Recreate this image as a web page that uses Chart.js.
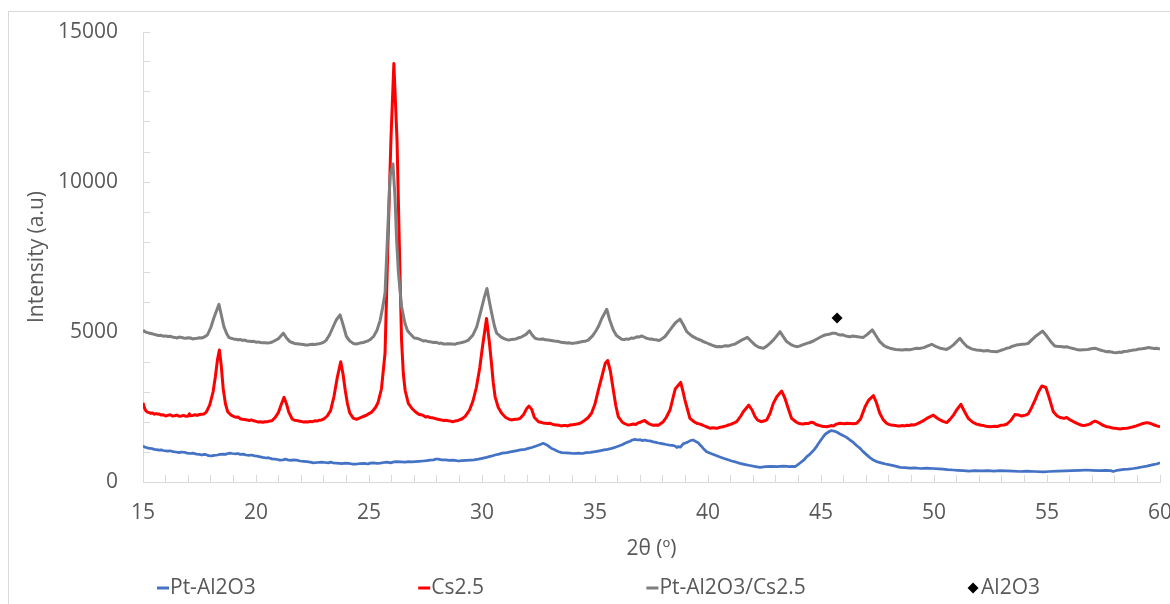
<!DOCTYPE html>
<html lang="en">
<head>
<meta charset="UTF-8">
<title>XRD patterns</title>
<script src="https://cdn.jsdelivr.net/npm/chart.js@4.4.1/dist/chart.umd.min.js"></script>
<style>
    html, body { margin: 0; padding: 0; background: #fff; overflow: hidden; }
    #wrap { position: relative; width: 1170px; height: 604px; }
    #frame { position: absolute; left: 8px; top: 11px; width: 1200px; height: 640px; border: 1px solid #d9d9d9; pointer-events: none; }
    canvas { position: absolute; left: 0; top: 0; }
</style>
</head>
<body>
<div id="wrap">
    <canvas id="xrd" width="1170" height="604"></canvas>
    <div id="frame"></div>
</div>
<script>
// 2θ (deg), intensity (a.u.) pairs for each sample
const ptAl2o3 = [
    [15.0,1210],[15.08,1160],[15.15,1150],[15.23,1130],[15.31,1120],[15.4,1110],[15.5,1090],[15.6,1080],
    [15.7,1060],[15.8,1070],[15.9,1050],[16.0,1040],[16.1,1030],[16.2,1040],[16.34,1010],[16.45,1000],
    [16.6,980],[16.7,1000],[16.85,990],[16.95,960],[17.1,950],[17.2,960],[17.37,930],[17.5,920],
    [17.6,900],[17.7,920],[17.8,910],[17.9,880],[18.04,870],[18.15,890],[18.3,900],[18.4,920],
    [18.55,930],[18.65,920],[18.75,950],[18.85,960],[18.95,950],[19.1,940],[19.2,950],[19.3,920],
    [19.44,930],[19.55,900],[19.7,890],[19.8,900],[19.95,870],[20.05,860],[20.18,840],[20.3,820],
    [20.45,800],[20.55,810],[20.7,770],[20.85,760],[20.95,750],[21.06,730],[21.2,740],[21.3,760],
    [21.4,740],[21.55,720],[21.65,740],[21.8,730],[21.95,700],[22.1,690],[22.25,680],[22.4,660],
    [22.54,640],[22.7,650],[22.9,660],[23.05,650],[23.2,640],[23.3,660],[23.42,640],[23.55,630],
    [23.7,620],[23.8,610],[23.95,630],[24.1,620],[24.25,600],[24.45,600],[24.6,610],[24.8,620],
    [24.95,600],[25.05,630],[25.19,640],[25.35,620],[25.5,630],[25.65,650],[25.8,660],[25.95,640],
    [26.1,670],[26.22,680],[26.4,670],[26.6,660],[26.75,680],[26.9,670],[27.04,680],[27.2,690],
    [27.4,700],[27.55,710],[27.7,730],[27.85,740],[27.95,760],[28.07,760],[28.2,740],[28.4,740],
    [28.55,720],[28.7,730],[28.8,720],[28.95,700],[29.1,710],[29.3,720],[29.5,730],[29.65,740],
    [29.84,760],[30.0,790],[30.2,820],[30.4,860],[30.58,900],[30.75,930],[30.9,960],[31.1,980],
    [31.31,1010],[31.5,1040],[31.7,1070],[31.9,1090],[32.05,1120],[32.2,1150],[32.4,1200],[32.55,1240],
    [32.71,1290],[32.8,1260],[32.9,1220],[33.0,1160],[33.08,1120],[33.2,1080],[33.3,1040],[33.4,1010],
    [33.53,980],[33.7,970],[33.9,960],[34.05,950],[34.26,960],[34.45,950],[34.6,980],[34.8,990],
    [35.0,1010],[35.2,1040],[35.4,1070],[35.55,1090],[35.74,1120],[35.9,1160],[36.05,1200],[36.2,1240],
    [36.33,1290],[36.45,1330],[36.55,1360],[36.65,1400],[36.77,1420],[36.9,1400],[37.0,1410],[37.1,1380],
    [37.21,1400],[37.3,1380],[37.43,1370],[37.58,1340],[37.7,1320],[37.8,1300],[37.9,1290],[38.02,1270],
    [38.15,1250],[38.3,1230],[38.42,1220],[38.54,1200],[38.62,1150],[38.7,1180],[38.78,1160],[38.9,1270],
    [39.0,1300],[39.1,1330],[39.22,1380],[39.34,1400],[39.42,1370],[39.5,1330],[39.58,1300],[39.65,1230],
    [39.72,1180],[39.8,1110],[39.94,1010],[40.1,960],[40.3,900],[40.5,840],[40.68,790],[40.85,750],
    [41.05,700],[41.25,660],[41.42,620],[41.6,590],[41.85,550],[42.05,520],[42.3,490],[42.55,510],
    [42.8,520],[43.05,510],[43.33,530],[43.5,520],[43.6,510],[43.75,520],[43.85,510],[43.95,560],
    [44.1,650],[44.25,740],[44.36,840],[44.5,920],[44.6,1000],[44.7,1080],[44.8,1180],[44.95,1350],
    [45.1,1510],[45.2,1600],[45.3,1650],[45.4,1700],[45.47,1710],[45.55,1700],[45.65,1680],[45.75,1640],
    [45.84,1600],[45.95,1560],[46.05,1520],[46.15,1480],[46.28,1400],[46.4,1340],[46.5,1270],[46.6,1200],
    [46.73,1120],[46.85,1020],[47.0,920],[47.15,820],[47.32,730],[47.5,670],[47.7,630],[47.85,600],
    [48.05,570],[48.25,540],[48.5,490],[48.7,480],[48.94,460],[49.15,470],[49.4,450],[49.65,460],
    [49.97,450],[50.2,440],[50.4,430],[50.6,410],[50.85,400],[51.05,390],[51.3,380],[51.55,360],
    [51.8,380],[52.1,370],[52.4,380],[52.65,360],[52.92,380],[53.2,370],[53.5,360],[53.8,350],
    [54.1,360],[54.45,350],[54.84,340],[55.1,350],[55.45,360],[55.8,370],[56.1,380],[56.45,390],
    [56.75,400],[57.0,390],[57.3,380],[57.6,390],[57.82,380],[57.93,350],[58.1,390],[58.4,420],
    [58.6,430],[58.82,450],[59.0,470],[59.2,500],[59.42,530],[59.6,560],[59.7,580],[59.85,600],
    [60.0,640]
];

const cs25 = [
    [15.0,2640],[15.06,2480],[15.12,2380],[15.2,2330],[15.28,2310],[15.35,2290],[15.42,2300],[15.5,2260],
    [15.58,2280],[15.65,2260],[15.72,2270],[15.8,2230],[15.9,2240],[16.0,2200],[16.1,2220],[16.2,2240],
    [16.3,2200],[16.4,2210],[16.5,2230],[16.6,2190],[16.7,2200],[16.8,2220],[16.9,2190],[17.0,2200],
    [17.05,2270],[17.1,2210],[17.2,2220],[17.3,2240],[17.4,2220],[17.5,2250],[17.6,2260],[17.7,2270],
    [17.8,2330],[17.95,2560],[18.1,3000],[18.2,3500],[18.3,4100],[18.38,4400],[18.46,3900],[18.55,3100],
    [18.65,2600],[18.75,2340],[18.9,2230],[19.0,2190],[19.1,2160],[19.2,2170],[19.3,2110],[19.4,2090],
    [19.5,2080],[19.6,2070],[19.7,2050],[19.8,2070],[19.9,2040],[20.0,2020],[20.1,2000],[20.2,2010],
    [20.3,1990],[20.4,2010],[20.5,2010],[20.6,2030],[20.7,2040],[20.85,2150],[21.0,2330],[21.1,2550],
    [21.24,2820],[21.35,2600],[21.45,2330],[21.6,2100],[21.7,2060],[21.8,2050],[21.9,2030],[22.0,2020],
    [22.1,2000],[22.2,2010],[22.3,2000],[22.4,2020],[22.5,2010],[22.6,2040],[22.7,2030],[22.8,2060],
    [22.9,2070],[23.0,2100],[23.15,2200],[23.3,2380],[23.45,2850],[23.6,3500],[23.75,4010],[23.85,3600],
    [23.95,3050],[24.05,2600],[24.15,2300],[24.3,2130],[24.45,2090],[24.6,2140],[24.7,2170],[24.8,2200],
    [24.9,2230],[25.0,2280],[25.1,2320],[25.2,2400],[25.3,2500],[25.4,2650],[25.55,3100],[25.71,4300],
    [25.84,8000],[25.97,11400],[26.1,13950],[26.24,11400],[26.34,8000],[26.44,4730],[26.52,3600],[26.6,3050],
    [26.74,2620],[26.9,2450],[27.05,2340],[27.2,2260],[27.3,2240],[27.4,2220],[27.5,2170],[27.6,2180],
    [27.7,2150],[27.8,2140],[27.9,2120],[28.0,2100],[28.1,2080],[28.2,2070],[28.3,2050],[28.4,2060],
    [28.5,2040],[28.6,2030],[28.7,2010],[28.8,2030],[28.9,2040],[29.0,2070],[29.1,2100],[29.25,2180],
    [29.45,2400],[29.6,2700],[29.75,3150],[29.9,3800],[30.02,4500],[30.2,5450],[30.32,4700],[30.42,3950],
    [30.5,3300],[30.58,2840],[30.72,2480],[30.87,2290],[31.05,2150],[31.2,2090],[31.3,2070],[31.4,2080],
    [31.5,2090],[31.6,2100],[31.68,2120],[31.85,2260],[31.97,2440],[32.08,2530],[32.2,2420],[32.32,2150],
    [32.5,2010],[32.6,1990],[32.7,1970],[32.8,1960],[32.9,1950],[33.0,1960],[33.1,1930],[33.2,1910],
    [33.3,1900],[33.4,1890],[33.5,1870],[33.6,1880],[33.7,1880],[33.8,1870],[33.9,1900],[34.0,1910],
    [34.1,1920],[34.2,1930],[34.3,1950],[34.4,1980],[34.5,2030],[34.7,2150],[34.85,2300],[35.0,2600],
    [35.15,3070],[35.3,3500],[35.45,3950],[35.56,4050],[35.68,3700],[35.81,3070],[35.92,2550],[36.03,2180],
    [36.2,2000],[36.3,1950],[36.45,1900],[36.55,1910],[36.7,1930],[36.8,1920],[36.9,1970],[37.0,1990],
    [37.06,2010],[37.2,2050],[37.28,2000],[37.35,1960],[37.45,1920],[37.5,1910],[37.6,1890],[37.7,1900],
    [37.8,1890],[37.85,1920],[38.02,2010],[38.15,2150],[38.32,2400],[38.45,2800],[38.55,3100],[38.79,3320],
    [38.9,3000],[38.98,2730],[39.1,2400],[39.2,2120],[39.4,2000],[39.5,1960],[39.65,1930],[39.75,1900],
    [39.9,1850],[40.0,1820],[40.1,1790],[40.2,1810],[40.3,1800],[40.4,1790],[40.5,1820],[40.6,1830],
    [40.7,1850],[40.8,1870],[40.9,1900],[41.0,1920],[41.1,1950],[41.27,2010],[41.45,2200],[41.56,2340],
    [41.8,2560],[41.95,2400],[42.08,2180],[42.2,2060],[42.35,2010],[42.5,2040],[42.6,2070],[42.75,2300],
    [42.89,2620],[43.05,2850],[43.26,3030],[43.4,2800],[43.55,2450],[43.7,2120],[43.9,2000],[44.0,1960],
    [44.1,1940],[44.2,1930],[44.3,1950],[44.45,1950],[44.55,1990],[44.65,1980],[44.75,1930],[44.85,1900],
    [44.95,1880],[45.05,1860],[45.15,1850],[45.25,1840],[45.35,1860],[45.45,1880],[45.55,1870],[45.65,1920],
    [45.75,1940],[45.84,1960],[45.95,1950],[46.05,1940],[46.15,1960],[46.3,1950],[46.45,1940],[46.58,1960],
    [46.75,2100],[46.95,2510],[47.1,2720],[47.32,2880],[47.45,2650],[47.6,2290],[47.75,2080],[47.9,1960],
    [48.0,1920],[48.1,1900],[48.2,1890],[48.3,1880],[48.4,1870],[48.5,1870],[48.6,1880],[48.7,1870],
    [48.8,1890],[48.9,1880],[49.0,1910],[49.1,1900],[49.23,1930],[49.45,2010],[49.68,2120],[49.97,2230],
    [50.1,2150],[50.27,2070],[50.4,2020],[50.56,1980],[50.7,2080],[50.86,2230],[51.0,2400],[51.19,2590],
    [51.35,2350],[51.52,2120],[51.7,2000],[51.8,1960],[51.88,1930],[52.0,1910],[52.1,1890],[52.2,1880],
    [52.3,1860],[52.4,1850],[52.48,1840],[52.6,1850],[52.7,1860],[52.8,1850],[52.95,1890],[53.1,1900],
    [53.22,1930],[53.4,2050],[53.58,2250],[53.75,2230],[53.88,2200],[54.05,2230],[54.17,2270],[54.3,2450],
    [54.47,2730],[54.62,3000],[54.77,3200],[54.95,3150],[55.1,2800],[55.28,2340],[55.45,2200],[55.58,2150],
    [55.75,2120],[55.87,2150],[56.0,2080],[56.1,2040],[56.17,2010],[56.3,1960],[56.4,1930],[56.5,1900],
    [56.6,1880],[56.7,1890],[56.85,1920],[56.95,1950],[57.0,1990],[57.12,2030],[57.2,2010],[57.35,1950],
    [57.45,1900],[57.55,1870],[57.64,1840],[57.75,1830],[57.9,1800],[58.0,1790],[58.1,1780],[58.23,1770],
    [58.35,1780],[58.5,1790],[58.6,1800],[58.7,1820],[58.82,1840],[58.95,1870],[59.1,1910],[59.2,1940],
    [59.3,1960],[59.42,1980],[59.55,1960],[59.65,1930],[59.75,1900],[59.86,1870],[60.0,1840]
];

const ptAl2o3Cs25 = [
    [15.0,5070],[15.06,5020],[15.12,5000],[15.2,4980],[15.3,4960],[15.4,4940],[15.5,4920],[15.6,4900],
    [15.7,4880],[15.8,4890],[15.9,4860],[16.0,4870],[16.1,4850],[16.2,4860],[16.3,4830],[16.4,4820],
    [16.5,4800],[16.6,4830],[16.7,4820],[16.8,4800],[16.9,4790],[17.0,4810],[17.1,4800],[17.2,4770],
    [17.3,4780],[17.4,4790],[17.5,4810],[17.6,4800],[17.7,4830],[17.85,4900],[18.0,5150],[18.15,5500],
    [18.36,5920],[18.47,5550],[18.58,5180],[18.7,4950],[18.8,4820],[18.9,4790],[19.0,4770],[19.1,4760],
    [19.2,4740],[19.3,4750],[19.4,4720],[19.5,4730],[19.6,4700],[19.7,4690],[19.8,4680],[19.9,4690],
    [20.0,4660],[20.1,4670],[20.2,4650],[20.3,4640],[20.4,4640],[20.5,4630],[20.6,4640],[20.7,4660],
    [20.8,4700],[21.0,4780],[21.21,4960],[21.35,4800],[21.5,4680],[21.6,4650],[21.7,4620],[21.8,4610],
    [21.9,4600],[22.0,4590],[22.1,4580],[22.2,4570],[22.3,4570],[22.4,4580],[22.5,4590],[22.6,4580],
    [22.7,4600],[22.8,4610],[22.9,4630],[23.0,4660],[23.1,4720],[23.25,4900],[23.4,5150],[23.55,5400],
    [23.72,5570],[23.85,5250],[24.0,4850],[24.15,4700],[24.3,4620],[24.45,4600],[24.55,4620],[24.65,4640],
    [24.75,4650],[24.85,4680],[24.95,4700],[25.04,4740],[25.2,4850],[25.35,5050],[25.49,5380],[25.6,5800],
    [25.71,6300],[25.82,8200],[25.93,10200],[26.06,10600],[26.15,9500],[26.22,8100],[26.3,7000],[26.44,5850],
    [26.59,5290],[26.7,5050],[26.81,4950],[27.0,4800],[27.1,4790],[27.2,4770],[27.3,4740],[27.4,4700],
    [27.5,4710],[27.62,4680],[27.75,4670],[27.85,4650],[27.95,4660],[28.1,4620],[28.2,4630],[28.3,4600],
    [28.4,4600],[28.5,4610],[28.66,4600],[28.8,4590],[28.9,4620],[29.0,4630],[29.15,4660],[29.25,4680],
    [29.4,4730],[29.6,4900],[29.77,5180],[29.95,5700],[30.1,6150],[30.22,6450],[30.33,6000],[30.43,5620],
    [30.55,5200],[30.65,4960],[30.85,4830],[31.0,4770],[31.17,4730],[31.3,4750],[31.4,4760],[31.5,4770],
    [31.6,4800],[31.76,4840],[31.95,4920],[32.1,5040],[32.22,4900],[32.35,4790],[32.45,4770],[32.6,4760],
    [32.7,4770],[32.8,4740],[32.94,4730],[33.05,4720],[33.2,4700],[33.3,4690],[33.4,4680],[33.5,4660],
    [33.6,4650],[33.75,4630],[33.85,4640],[33.97,4620],[34.1,4630],[34.2,4640],[34.3,4660],[34.45,4680],
    [34.55,4690],[34.7,4730],[34.9,4880],[35.05,5050],[35.15,5180],[35.3,5450],[35.52,5760],[35.65,5400],
    [35.81,5070],[35.95,4880],[36.18,4760],[36.3,4750],[36.4,4770],[36.5,4760],[36.6,4800],[36.7,4790],
    [36.85,4840],[36.95,4830],[37.06,4870],[37.15,4840],[37.25,4800],[37.35,4780],[37.43,4760],[37.5,4770],
    [37.58,4750],[37.7,4740],[37.8,4720],[37.88,4730],[38.1,4850],[38.32,5070],[38.55,5300],[38.76,5430],
    [38.9,5250],[39.06,5010],[39.28,4870],[39.5,4780],[39.6,4750],[39.7,4720],[39.79,4680],[39.9,4650],
    [40.05,4600],[40.15,4570],[40.25,4540],[40.38,4510],[40.5,4520],[40.6,4510],[40.7,4530],[40.8,4540],
    [40.9,4530],[41.0,4560],[41.1,4580],[41.2,4600],[41.49,4730],[41.74,4820],[41.9,4700],[42.08,4570],
    [42.25,4490],[42.45,4460],[42.6,4530],[42.75,4630],[42.89,4730],[43.19,5010],[43.3,4880],[43.48,4680],
    [43.7,4570],[43.8,4540],[43.92,4510],[44.05,4530],[44.15,4560],[44.25,4590],[44.4,4630],[44.5,4650],
    [44.66,4700],[44.8,4760],[44.9,4800],[45.05,4860],[45.18,4900],[45.3,4920],[45.4,4930],[45.5,4960],
    [45.62,4960],[45.75,4920],[45.85,4900],[45.95,4910],[46.05,4880],[46.15,4860],[46.28,4840],[46.4,4870],
    [46.55,4850],[46.7,4830],[46.87,4820],[47.05,4920],[47.27,5070],[47.45,4860],[47.6,4680],[47.8,4540],
    [47.9,4500],[48.05,4460],[48.15,4440],[48.3,4420],[48.45,4410],[48.6,4400],[48.75,4420],[48.94,4410],
    [49.05,4430],[49.23,4460],[49.35,4450],[49.55,4480],[49.7,4530],[49.9,4590],[50.1,4510],[50.27,4460],
    [50.4,4440],[50.56,4420],[50.7,4480],[50.86,4570],[51.15,4790],[51.3,4640],[51.47,4510],[51.6,4460],
    [51.7,4430],[51.88,4400],[52.0,4390],[52.1,4380],[52.2,4370],[52.35,4380],[52.5,4360],[52.65,4350],
    [52.77,4340],[52.9,4370],[53.0,4400],[53.1,4420],[53.22,4460],[53.35,4480],[53.45,4520],[53.55,4540],
    [53.66,4570],[53.8,4580],[53.9,4590],[54.05,4600],[54.17,4620],[54.3,4720],[54.47,4840],[54.8,5030],
    [54.95,4900],[55.06,4790],[55.2,4650],[55.35,4530],[55.5,4520],[55.6,4520],[55.75,4500],[55.87,4510],
    [56.0,4480],[56.15,4450],[56.3,4420],[56.46,4400],[56.6,4410],[56.8,4420],[56.95,4440],[57.12,4460],
    [57.25,4430],[57.35,4400],[57.5,4370],[57.64,4340],[57.75,4350],[57.85,4330],[57.95,4320],[58.08,4310],
    [58.2,4330],[58.3,4320],[58.4,4350],[58.55,4360],[58.7,4380],[58.82,4400],[58.95,4410],[59.05,4430],
    [59.2,4440],[59.35,4460],[59.5,4480],[59.6,4470],[59.75,4450],[59.85,4460],[60.0,4430]
];

// alumina reflection marker
const al2o3Marker = [[45.71, 5470]];

const xTickLabels = [15, 20, 25, 30, 35, 40, 45, 50, 55, 60];
const yTickLabels = [0, 5000, 10000, 15000];

const toPoints = (pairs) => pairs.map(([x, y]) => ({ x, y }));

const textColor = '#595959';
const axisColor = '#d9d9d9';
const fontFamily = '"Open Sans", "Noto Sans", sans-serif';

// legend drawn along the bottom: short line swatches, diamond for the marker
const bottomLegend = {
    id: 'bottomLegend',
    afterDraw(chart) {
        const ctx = chart.ctx;
        const y = 588;
        const left = 157, right = 1040, swatch = 13;
        ctx.save();
        ctx.font = '21px ' + fontFamily;
        const items = chart.data.datasets.map(ds => ({
            label: ds.label,
            color: ds.borderColor,
            marker: ds.showLine === false,
            width: swatch + ctx.measureText(ds.label).width
        }));
        const total = items.reduce((s, it) => s + it.width, 0);
        const gap = (right - left - total) / (items.length - 1);
        let x = left;
        items.forEach(it => {
            if (it.marker) {
                ctx.fillStyle = '#000';
                Chart.helpers.drawPoint(ctx, { pointStyle: 'rectRot', radius: 5.5, borderWidth: 0 }, x + 5, y);
            } else {
                ctx.fillStyle = it.color;
                ctx.fillRect(x, y - 1.5, 12, 3);
            }
            ctx.fillStyle = textColor;
            ctx.textBaseline = 'middle';
            ctx.fillText(it.label, x + swatch, y);
            x += it.width + gap;
        });
        ctx.restore();
    }
};

new Chart(document.getElementById('xrd'), {
    type: 'line',
    data: {
        datasets: [
            { label: 'Pt-Al2O3', data: toPoints(ptAl2o3), borderColor: '#4472c4', borderWidth: 2.75, order: 4 },
            { label: 'Cs2.5', data: toPoints(cs25), borderColor: '#ff0000', borderWidth: 3, order: 3 },
            { label: 'Pt-Al2O3/Cs2.5', data: toPoints(ptAl2o3Cs25), borderColor: '#7f7f7f', borderWidth: 3, order: 2 },
            { label: 'Al2O3', data: toPoints(al2o3Marker), borderColor: '#000', backgroundColor: '#000',
              showLine: false, pointStyle: 'rectRot', pointRadius: 5.5, pointBorderWidth: 0, order: 1 }
        ]
    },
    options: {
        responsive: false,
        animation: false,
        devicePixelRatio: 1,
        layout: { padding: { left: 10, top: 32, right: 10, bottom: 42 } },
        elements: { point: { radius: 0 }, line: { tension: 0, borderJoinStyle: 'round' } },
        plugins: { legend: { display: false }, tooltip: { enabled: false } },
        scales: {
            x: {
                type: 'linear',
                min: 15,
                max: 60,
                afterFit: (scale) => { scale.height = 80; scale.paddingRight = 10; },
                ticks: {
                    stepSize: 1,
                    autoSkip: false,
                    maxRotation: 0,
                    padding: 25,
                    color: textColor,
                    font: { family: fontFamily, size: 21 },
                    callback: (v) => xTickLabels.includes(v) ? String(v) : ''
                },
                grid: { drawOnChartArea: false, color: axisColor, tickLength: -7 },
                border: { color: axisColor },
                title: {
                    display: true,
                    text: '2θ (º)',
                    color: textColor,
                    font: { family: fontFamily, size: 21 },
                    padding: { top: 0, bottom: 0 }
                }
            },
            y: {
                min: 0,
                max: 15000,
                // keep the label padding from pushing the plot down
                afterFit: (scale) => { scale.width = 133; scale.paddingTop = 0; scale.paddingBottom = 0; },
                ticks: {
                    stepSize: 1000,
                    padding: 32,
                    color: textColor,
                    font: { family: fontFamily, size: 21 },
                    callback: (v) => yTickLabels.includes(v) ? String(v) : ''
                },
                grid: { drawOnChartArea: false, color: axisColor, tickLength: -7 },
                border: { color: axisColor },
                title: {
                    display: true,
                    text: 'Intensity (a.u)',
                    color: textColor,
                    font: { family: fontFamily, size: 21 },
                    padding: { top: 14, bottom: 0 }
                }
            }
        }
    },
    plugins: [bottomLegend]
});
</script>
</body>
</html>
